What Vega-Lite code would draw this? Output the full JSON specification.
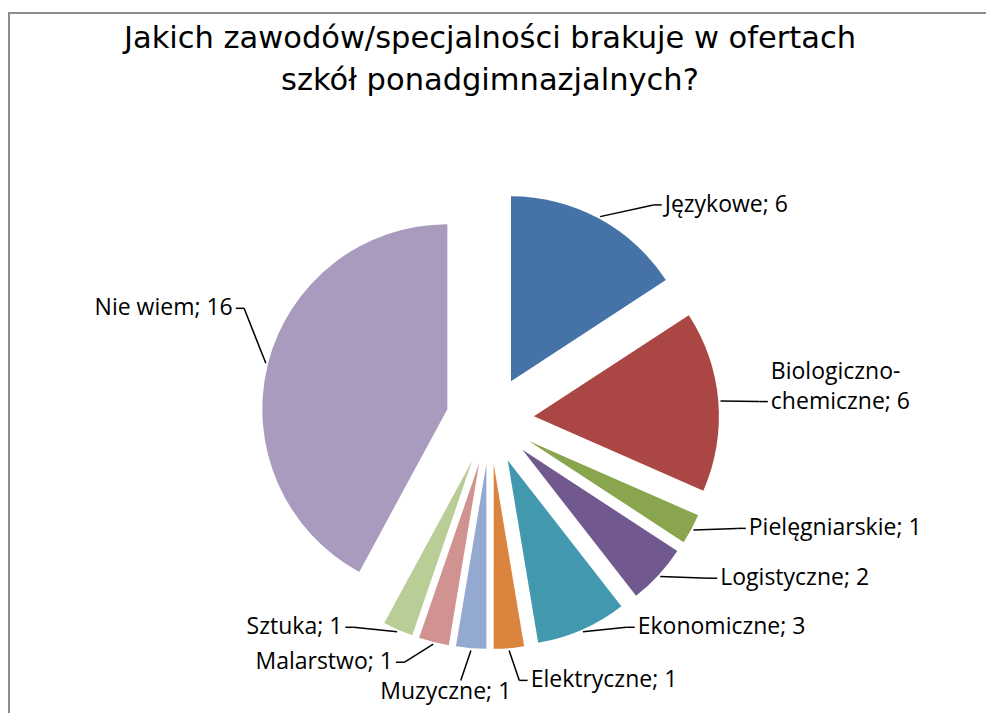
{
  "$schema": "https://vega.github.io/schema/vega-lite/v6.json",
  "width": 990,
  "height": 720,
  "autosize": {"type": "none"},
  "padding": {"left": 9, "top": 13, "right": 0, "bottom": 0},
  "background": "white",
  "config": {"view": {"stroke": "#8c8c8c", "strokeWidth": 2}},
  "title": {
    "text": ["Jakich zawodów/specjalności brakuje w ofertach", "szkół ponadgimnazjalnych?"],
    "font": "DejaVu Sans",
    "fontSize": 30.5,
    "fontWeight": "normal",
    "color": "#000000",
    "anchor": "middle",
    "frame": "group",
    "lineHeight": 42,
    "dx": -14,
    "dy": 83,
    "offset": 0
  },
  "data": {
    "values": [
      {"cat": "Językowe", "value": 6, "label": "Językowe; 6"},
      {"cat": "Biologiczno-chemiczne", "value": 6, "label": "Biologiczno-\nchemiczne; 6"},
      {"cat": "Pielęgniarskie", "value": 1, "label": "Pielęgniarskie; 1"},
      {"cat": "Logistyczne", "value": 2, "label": "Logistyczne; 2"},
      {"cat": "Ekonomiczne", "value": 3, "label": "Ekonomiczne; 3"},
      {"cat": "Elektryczne", "value": 1, "label": "Elektryczne; 1"},
      {"cat": "Muzyczne", "value": 1, "label": "Muzyczne; 1"},
      {"cat": "Malarstwo", "value": 1, "label": "Malarstwo; 1"},
      {"cat": "Sztuka", "value": 1, "label": "Sztuka; 1"},
      {"cat": "Nie wiem", "value": 16, "label": "Nie wiem; 16"}
    ]
  },
  "transform": [
    {"window": [{"op": "row_number", "as": "i"}]},
    {"joinaggregate": [{"op": "sum", "field": "value", "as": "total"}]},
    {"stack": "value", "groupby": [], "sort": [{"field": "i", "order": "ascending"}], "as": ["s0", "s1"]},
    {"calculate": "datum.s0 / datum.total", "as": "a0"},
    {"calculate": "datum.s1 / datum.total", "as": "a1"},
    {"calculate": "(datum.s0 + datum.s1) / datum.total * PI", "as": "mid"},
    {"calculate": "datum.mid * 180 / PI", "as": "middeg"},
    {"calculate": "datum.middeg > 140 && datum.middeg < 220", "as": "bottom"},
    {"calculate": "0.238 * sin(datum.mid)", "as": "ex"},
    {"calculate": "0.238 * cos(datum.mid)", "as": "ey"},
    {"calculate": "1.25 * sin(datum.mid)", "as": "px"},
    {"calculate": "1.25 * cos(datum.mid)", "as": "py"},
    {"calculate": "(datum.bottom ? 180 + (datum.middeg - 180) * 1.6 : datum.middeg + 10 * cos(datum.mid) + 8 * max(0, -sin(datum.mid))) * PI / 180", "as": "la"},
    {"calculate": "(datum.bottom ? 1.2 : 1.46) * sin(datum.la)", "as": "lx"},
    {"calculate": "(datum.bottom ? 1.42 : 1.46) * cos(datum.la)", "as": "ly"},
    {"calculate": "datum.lx + (datum.middeg < 178 ? 0.045 : (datum.middeg >= 190 ? -0.045 : 0))", "as": "sx"},
    {"calculate": "indexof(datum.label, '\\n') >= 0", "as": "multi"}
  ],
  "layer": [
    {
      "mark": {"type": "arc", "radius": 185},
      "encoding": {
        "x": {"field": "ex", "type": "quantitative", "scale": {"domain": [-2.6, 2.751]}, "axis": null},
        "y": {"field": "ey", "type": "quantitative", "scale": {"domain": [-1.692, 2.2]}, "axis": null},
        "theta": {"field": "a0", "type": "quantitative", "scale": {"domain": [0, 1]}},
        "theta2": {"field": "a1"},
        "color": {
          "field": "cat",
          "type": "nominal",
          "scale": {
            "domain": ["Językowe", "Biologiczno-chemiczne", "Pielęgniarskie", "Logistyczne", "Ekonomiczne", "Elektryczne", "Muzyczne", "Malarstwo", "Sztuka", "Nie wiem"],
            "range": ["#4572A7", "#AA4643", "#89A54E", "#71588F", "#4198AF", "#DB843D", "#93A9CF", "#D19392", "#B9CD96", "#A99BBD"]
          },
          "legend": null
        }
      }
    },
    {
      "mark": {"type": "rule", "color": "#000000", "strokeWidth": 1.5},
      "encoding": {
        "x": {"field": "px", "type": "quantitative", "scale": {"domain": [-2.6, 2.751]}, "axis": null},
        "y": {"field": "py", "type": "quantitative", "scale": {"domain": [-1.692, 2.2]}, "axis": null},
        "x2": {"field": "lx"},
        "y2": {"field": "ly"}
      }
    },
    {
      "mark": {"type": "rule", "color": "#000000", "strokeWidth": 1.5},
      "encoding": {
        "x": {"field": "lx", "type": "quantitative", "scale": {"domain": [-2.6, 2.751]}, "axis": null},
        "y": {"field": "ly", "type": "quantitative", "scale": {"domain": [-1.692, 2.2]}, "axis": null},
        "x2": {"field": "sx"}
      }
    },
    {
      "transform": [{"filter": "datum.middeg < 178 && !datum.multi"}],
      "mark": {"type": "text", "align": "left", "baseline": "middle", "dx": 3, "font": "Open Sans", "fontSize": 23, "color": "#000000"},
      "encoding": {
        "x": {"field": "sx", "type": "quantitative", "scale": {"domain": [-2.6, 2.751]}, "axis": null},
        "y": {"field": "ly", "type": "quantitative", "scale": {"domain": [-1.692, 2.2]}, "axis": null},
        "text": {"field": "label", "type": "nominal"}
      }
    },
    {
      "transform": [{"filter": "datum.middeg < 178 && datum.multi"}],
      "mark": {"type": "text", "align": "left", "baseline": "middle", "dx": 3, "dy": -30, "font": "Open Sans", "fontSize": 23, "lineBreak": "\n", "lineHeight": 30, "color": "#000000"},
      "encoding": {
        "x": {"field": "sx", "type": "quantitative", "scale": {"domain": [-2.6, 2.751]}, "axis": null},
        "y": {"field": "ly", "type": "quantitative", "scale": {"domain": [-1.692, 2.2]}, "axis": null},
        "text": {"field": "label", "type": "nominal"}
      }
    },
    {
      "transform": [{"filter": "datum.middeg >= 178 && datum.middeg < 190"}],
      "mark": {"type": "text", "align": "center", "baseline": "top", "dx": -15, "dy": 1, "font": "Open Sans", "fontSize": 23, "color": "#000000"},
      "encoding": {
        "x": {"field": "sx", "type": "quantitative", "scale": {"domain": [-2.6, 2.751]}, "axis": null},
        "y": {"field": "ly", "type": "quantitative", "scale": {"domain": [-1.692, 2.2]}, "axis": null},
        "text": {"field": "label", "type": "nominal"}
      }
    },
    {
      "transform": [{"filter": "datum.middeg >= 190"}],
      "mark": {"type": "text", "align": "right", "baseline": "middle", "dx": -3, "font": "Open Sans", "fontSize": 23, "color": "#000000"},
      "encoding": {
        "x": {"field": "sx", "type": "quantitative", "scale": {"domain": [-2.6, 2.751]}, "axis": null},
        "y": {"field": "ly", "type": "quantitative", "scale": {"domain": [-1.692, 2.2]}, "axis": null},
        "text": {"field": "label", "type": "nominal"}
      }
    }
  ]
}
